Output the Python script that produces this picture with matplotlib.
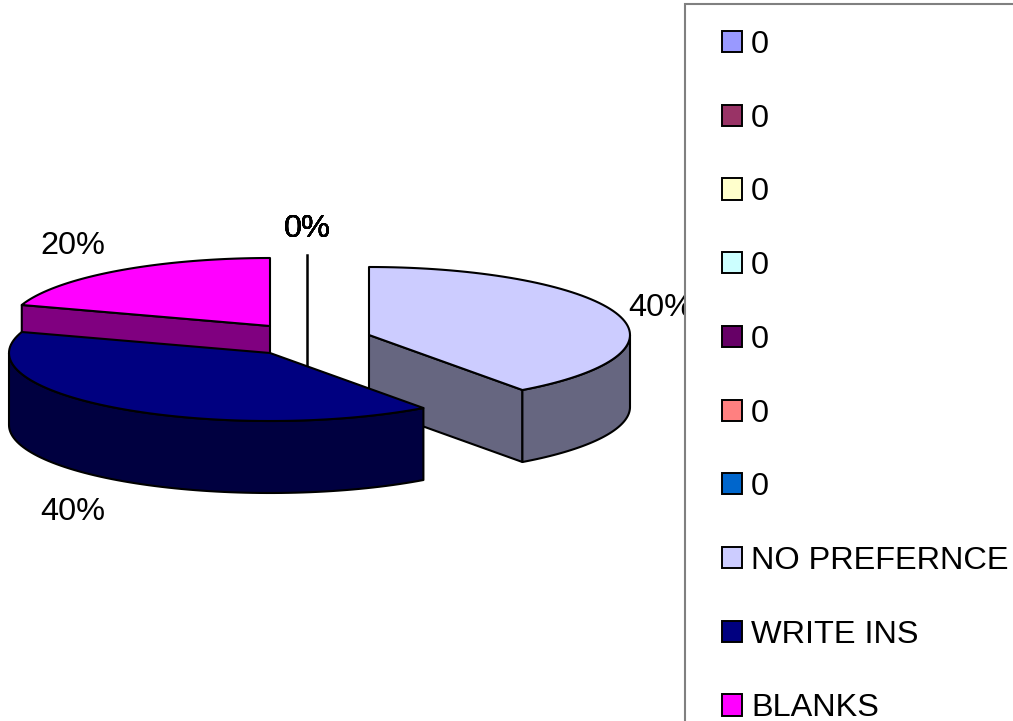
import numpy as np
import matplotlib
matplotlib.use("Agg")
import matplotlib.pyplot as plt
from matplotlib.patches import Patch, Polygon, Rectangle

plt.rcParams['font.family'] = ['Liberation Sans', 'DejaVu Sans']

categories = ["0", "0", "0", "0", "0", "0", "0", "NO PREFERNCE", "WRITE INS", "BLANKS"]
values = [0, 0, 0, 0, 0, 0, 0, 2, 2, 1]
colors = ["#9999FF", "#993366", "#FFFFCC", "#CCFFFF", "#660066", "#FF8080", "#0066CC",
          "#CCCCFF", "#000080", "#FF00FF"]
wall_colors = {7: "#666680", 8: "#000040", 9: "#800080"}

# pie geometry in pixels (y goes down)
centers = {7: (369, 335), 8: (270, 353), 9: (270, 326)}
rx, ry, depth = 261, 68, 72
label_pos = {7: (661, 308), 8: (73, 512), 9: (73, 245.5)}

total = sum(values)
fig = plt.figure(figsize=(10.13, 7.21), dpi=100)
ax = fig.add_axes([0, 0, 1, 1])
ax.set_xlim(0, 1013)
ax.set_ylim(721, 0)
ax.axis("off")


def rim(center, a0, a1):
    t = np.radians(np.linspace(a0, a1, 80))
    return np.column_stack([center[0] + rx * np.cos(t), center[1] - ry * np.sin(t)])


def draw_slice(i, a0, a1):
    c = centers[i]
    edge = dict(edgecolor="black", linewidth=1.5, joinstyle="round")
    # radial wall facing the viewer
    if i in (7, 9):
        a = a1 if i == 7 else a0
        p = rim(c, a, a)[0]
        wall = [c, p, (p[0], p[1] + depth), (c[0], c[1] + depth)]
        ax.add_patch(Polygon(wall, facecolor=wall_colors[i], **edge))
    # outer wall, only the front part of the ellipse shows
    lo, hi = max(min(a0, a1), -180), min(max(a0, a1), 0)
    if lo < hi:
        r = rim(c, lo, hi)
        outer = np.vstack([r, (r + [0, depth])[::-1]])
        ax.add_patch(Polygon(outer, facecolor=wall_colors[i], **edge))
    top = np.vstack([[c], rim(c, a0, a1)])
    ax.add_patch(Polygon(top, facecolor=colors[i], **edge))


# leader line of the zero slices sits behind the pie
ax.plot([307, 307], [255, 367], color="black", linewidth=1.8, zorder=0.5)

angles = {}
start = 90
for i, v in enumerate(values):
    sweep = 360 * v / total
    angles[i] = (start, start - sweep)
    start -= sweep

for i in [7, 9, 8]:
    draw_slice(i, *angles[i])

for i, v in enumerate(values):
    if v == 0:
        ax.text(307.5, 229, "0%", fontsize=23.4, ha="center", va="center", color="black")
    else:
        ax.text(label_pos[i][0], label_pos[i][1], f"{100 * v / total:.0f}%", fontsize=23.4,
                ha="center", va="center", color="black", zorder=3)

# legend box is opaque and covers the end of the 40% label
ax.add_patch(Rectangle((684.5, 4), 500, 900, facecolor="white", edgecolor="#808080",
                       linewidth=1.5, zorder=4))

handles = [Patch(facecolor=col, edgecolor="black", linewidth=1.4) for col in colors]
ax.legend(handles, categories, loc="upper left", bbox_to_anchor=(722, 30),
          bbox_transform=ax.transData, frameon=False, fontsize=23.4, borderpad=0,
          borderaxespad=0, handlelength=0.62, handleheight=0.62, handletextpad=0.28,
          labelspacing=1.345, labelcolor="black")

fig.savefig("out.png", dpi=100)
